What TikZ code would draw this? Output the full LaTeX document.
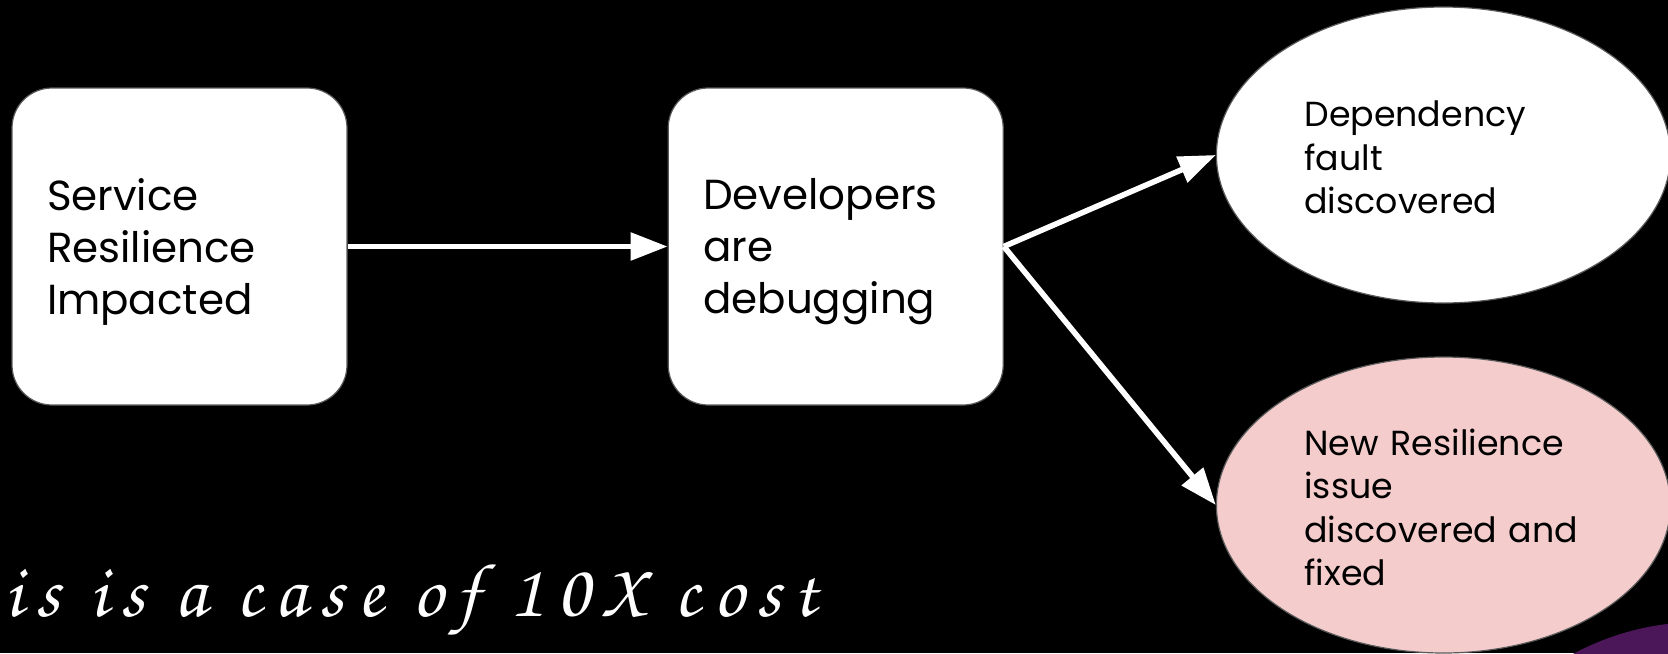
\documentclass[tikz,border=0pt]{standalone}
\usepackage{fontspec}
\setmainfont{Poppins}
\newfontfamily\handfont{texgyrechorus-mediumitalic}[Extension=.otf, LetterSpace=17]
\usetikzlibrary{positioning,shapes.geometric,arrows.meta}
\definecolor{slidepink}{HTML}{F4CCCC}
\definecolor{slidepurple}{RGB}{76,23,89}
\definecolor{edgegray}{HTML}{595959}
\tikzset{
  stepbox/.style={rectangle, rounded corners=20pt, fill=white, draw=edgegray,
    line width=0.6pt, minimum width=167.5pt, minimum height=158.5pt,
    inner sep=0pt, text width=132.5pt, align=left,
    font=\fontsize{21}{26}\selectfont,
    execute at begin node={\rule{0pt}{21pt}}},
  outcome/.style={ellipse, fill=white, draw=edgegray, line width=0.6pt,
    minimum width=227pt, minimum height=148pt, inner sep=0pt,
    text width=139pt, align=left, font=\fontsize{17.4}{21.75}\selectfont,
    execute at begin node={\rule{0pt}{15.5pt}}},
  flow/.style={white, line width=2.8pt,
    -{Triangle[length=18.5pt,width=13.5pt]}}
}

\begin{document}
\begin{tikzpicture}[x=0.5pt,y=-0.5pt]
  % slide background
  \fill[black] (0,0) rectangle (1668,653);
  \useasboundingbox (0,0) rectangle (1668,653);
  \fill[slidepurple] (1700,890) circle[radius=134pt];

  % steps
  \node[stepbox] (impact) at (179.5,246.5) {Service\\Resilience\\Impacted};
  \node[stepbox, right=160pt of impact] (debug) {Developers\\are\\debugging};
  \node[outcome, right=106pt of debug.east, yshift=45.75pt] (fault)
    {Dependency\\fault\\discovered};
  \node[outcome, fill=slidepink, right=106pt of debug.east, yshift=-129.25pt] (newissue)
    {New Resilience\\issue\\discovered~and\\fixed};

  \node[anchor=base west, text=white, inner sep=0pt,
    font=\handfont\fontsize{38}{44}\selectfont] (note) at (4,616)
    {is is a case of 10X cost};

  \path[flow]
  (impact) edge (debug)
  (debug.east) edge (fault.west)
  (debug.east) edge (newissue.west);
\end{tikzpicture}
\end{document}
